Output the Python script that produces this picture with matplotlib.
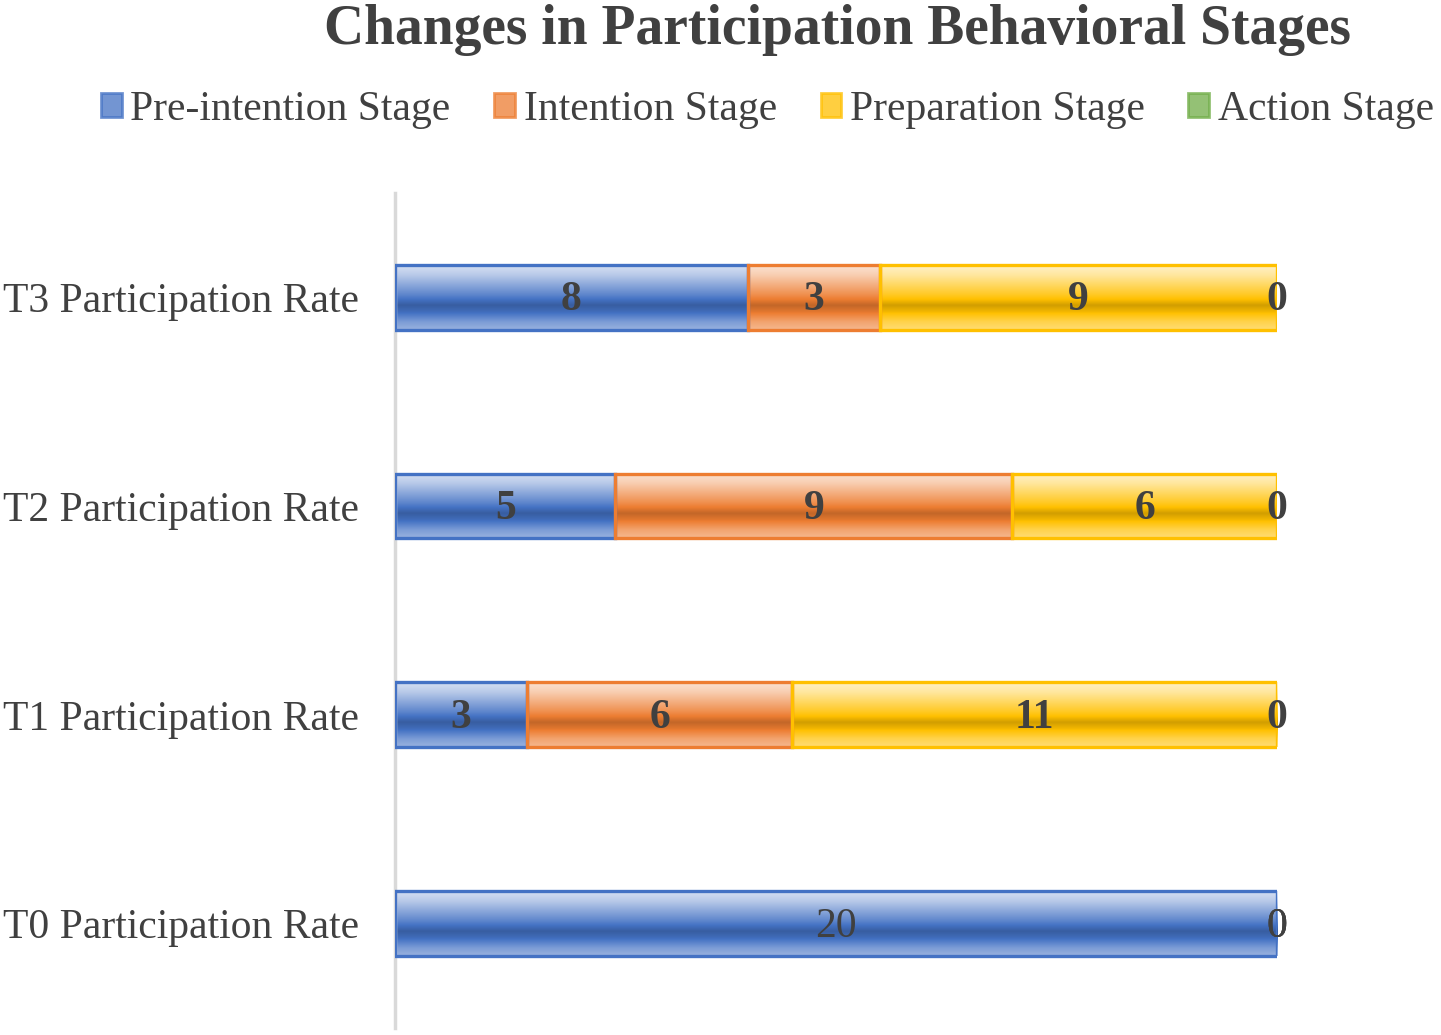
import matplotlib.pyplot as plt
import numpy as np
from matplotlib.patches import Patch
from matplotlib.colors import to_rgb

categories = ['T0 Participation Rate', 'T1 Participation Rate',
              'T2 Participation Rate', 'T3 Participation Rate']
stages = ['Pre-intention Stage', 'Intention Stage', 'Preparation Stage', 'Action Stage']
pre_intention = [20, 3, 5, 8]
intention = [0, 6, 9, 3]
preparation = [0, 11, 6, 9]
action = [0, 0, 0, 0]
label_bold = [False, True, True, True]

colors = ['#4472C4', '#ED7D31', '#FFC000', '#70AD47']
text_col = '#404040'

plt.rcParams['font.family'] = ['Liberation Serif', 'DejaVu Serif']

fig = plt.figure(figsize=(14.41, 10.35), dpi=100)
ax = fig.add_axes([0.2741, 0.0068, 0.6121, 0.8068])


def gradient_img(color):
    base = np.array(to_rgb(color))
    white = np.ones(3)
    # vertical profile: light top, dark band ~65%, lighter bottom
    pos = [0.0, 0.15, 0.45, 0.62, 0.72, 0.88, 1.0]
    mix = [0.78, 0.62, 0.15, -0.18, -0.05, 0.30, 0.45]
    ys = np.linspace(0, 1, 64)
    m = np.interp(ys, pos, mix)
    rows = []
    for v in m:
        if v >= 0:
            rows.append(base * (1 - v) + white * v)
        else:
            rows.append(base * (1 + v))
    img = np.array(rows)[:, None, :]
    return np.clip(img, 0, 1)


series = [pre_intention, intention, preparation, action]
height = 0.31
y = np.arange(len(categories))
left = np.zeros(len(categories))
for s, vals in enumerate(series):
    vals = np.array(vals, dtype=float)
    bars = ax.barh(y, vals, left=left, height=height, color='none',
                   edgecolor=colors[s], linewidth=2.4, zorder=3)
    img = gradient_img(colors[s])
    for i, b in enumerate(bars):
        if vals[i] > 0:
            x0, y0 = b.get_x(), b.get_y()
            w, h = b.get_width(), b.get_height()
            ax.imshow(img, extent=[x0, x0 + w, y0, y0 + h], aspect='auto',
                      zorder=2, interpolation='bilinear', origin='upper')
        else:
            b.set_linewidth(0)
        xc = left[i] + vals[i] / 2
        ax.text(xc, y[i] - 0.015, f'{int(vals[i])}', ha='center', va='center',
                fontsize=30, color=text_col, zorder=4,
                fontweight='bold' if label_bold[i] else 'normal')
    left = left + vals

ax.set_xlim(0, 20)
ax.set_ylim(-0.5, 3.5)
ax.set_yticks(y)
ax.set_yticklabels(categories, fontsize=30, color=text_col)
ax.tick_params(axis='y', length=0, pad=26)
ax.set_xticks([])
for sp in ['top', 'right', 'bottom']:
    ax.spines[sp].set_visible(False)
ax.spines['left'].set_color('#D9D9D9')
ax.spines['left'].set_linewidth(2.5)

fig.text(0.581, 0.971, 'Changes in Participation Behavioral Stages', ha='center',
         va='center', fontsize=40, fontweight='bold', color=text_col)

handles = [Patch(facecolor=c, edgecolor=c, alpha=0.75, linewidth=2) for c in colors]
leg = fig.legend(handles, stages, loc='center', bbox_to_anchor=(0.5326, 0.894), ncol=4,
                 frameon=False, fontsize=30, handlelength=0.5, handleheight=0.5,
                 handletextpad=0.2, columnspacing=1.05, labelcolor=text_col,
                 borderpad=0.1, borderaxespad=0)

fig.savefig('out.png', dpi=100)
